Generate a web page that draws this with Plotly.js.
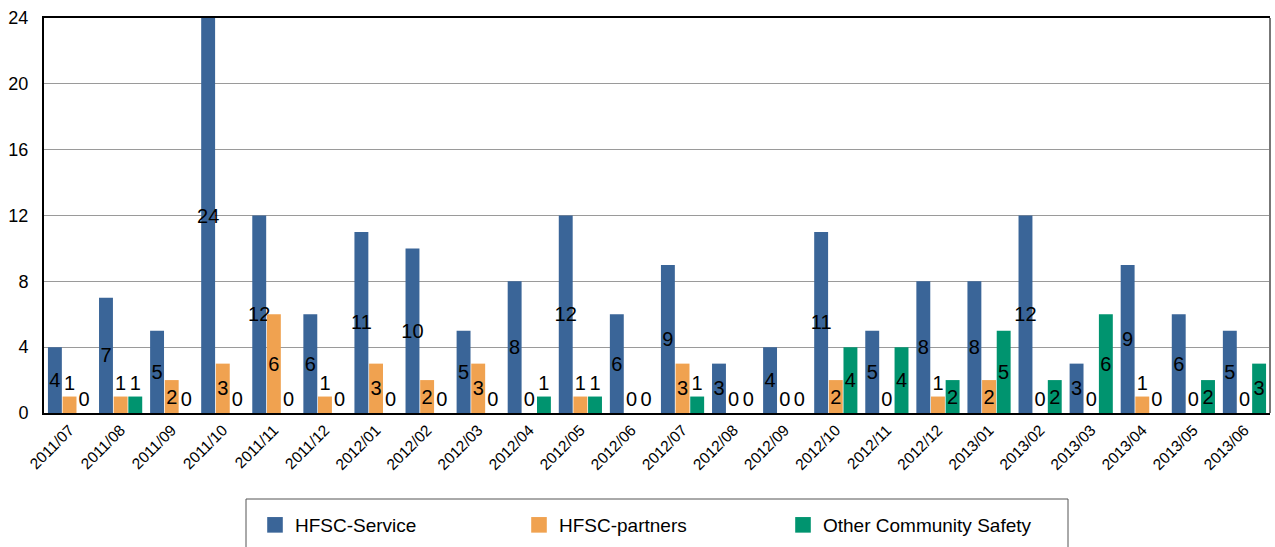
<!DOCTYPE html>
<html>
<head>
<meta charset="utf-8">
<script src="https://cdn.plot.ly/plotly-3.0.1.min.js"></script>
<style>html,body{margin:0;padding:0;background:#fff;}#chart{width:1275px;height:547px;}</style>
</head>
<body>
<div id="chart"></div>
<script>
const months = ["2011/07","2011/08","2011/09","2011/10","2011/11","2011/12","2012/01","2012/02","2012/03","2012/04","2012/05","2012/06","2012/07","2012/08","2012/09","2012/10","2012/11","2012/12","2013/01","2013/02","2013/03","2013/04","2013/05","2013/06"];
const hfscService  = [4,7,5,24,12,6,11,10,5,8,12,6,9,3,4,11,5,8,8,12,3,9,6,5];
const hfscPartners = [1,1,2,3,6,1,3,2,3,0,1,0,3,0,0,2,0,1,2,0,0,1,0,0];
const otherSafety  = [0,1,0,0,0,0,0,0,0,1,1,0,1,0,0,4,4,2,5,2,6,0,2,3];
const seriesNames = ["HFSC-Service","HFSC-partners","Other Community Safety"];
const seriesColors = ["#3a6598","#f0a250","#00946f"];

const FONT = "Liberation Sans, Arial, sans-serif";
function makeTrace(vals, i){
  return {
    type: "bar",
    name: seriesNames[i],
    x: months,
    y: vals,
    marker: {color: seriesColors[i], line: {width: 0}},
    text: vals.map(String),
    textposition: vals.map(v => v >= 2 ? "inside" : "outside"),
    insidetextanchor: "middle",
    textangle: 0,
    constraintext: "none",
    cliponaxis: false,
    textfont: {family: FONT, size: 20, color: "#000"},
    insidetextfont: {family: FONT, size: 20, color: "#000"},
    outsidetextfont: {family: FONT, size: 20, color: "#000"},
    hoverinfo: "x+y+name"
  };
}
const data = [makeTrace(hfscService,0), makeTrace(hfscPartners,1), makeTrace(otherSafety,2)];

const W = 1275, H = 547, L = 44, R = 5, T = 18, B = 134;
const pw = W - L - R, ph = H - T - B;
const px = X => (X - L) / pw;
const py = Y => (H - B - Y) / ph;

const layout = {
  width: W, height: H,
  margin: {l: L, r: R, t: T, b: B, autoexpand: false},
  paper_bgcolor: "#fff", plot_bgcolor: "#fff",
  font: {family: FONT, color: "#000"},
  barmode: "group",
  bargap: 0.14,
  bargroupgap: 0.05,
  showlegend: true,
  legend: {
    orientation: "h",
    x: px(255), xanchor: "left",
    y: py(506), yanchor: "top",
    font: {family: FONT, size: 19, color: "#000"},
    entrywidth: 219,
    entrywidthmode: "pixels",
    bgcolor: "rgba(0,0,0,0)",
    borderwidth: 0,
    traceorder: "normal"
  },
  xaxis: {
    type: "category",
    tickangle: -45,
    tickfont: {family: FONT, size: 15.5, color: "#000"},
    showgrid: false,
    showline: true, linecolor: "#000", linewidth: 2,
    mirror: true,
    ticks: "",
    fixedrange: true
  },
  yaxis: {
    range: [0, 24],
    tickvals: [0,4,8,12,16,20,24],
    ticktext: ["0","4","8","12","16","20","24"],
    tickfont: {family: FONT, size: 18, color: "#000"},
    showgrid: true, gridcolor: "#9a9a9a", gridwidth: 1,
    showline: true, linecolor: "#000", linewidth: 2,
    zeroline: false,
    ticks: "",
    ticklabelstandoff: 10,
    fixedrange: true
  },
  shapes: [
    {type: "line", xref: "paper", yref: "paper", x0: 1, x1: 1, y0: 0, y1: 1,
     line: {color: "#777", width: 2}},
    {type: "rect", xref: "paper", yref: "paper", x0: px(246), x1: px(1068), y0: py(499), y1: py(580),
     line: {color: "#555", width: 1}, fillcolor: "rgba(0,0,0,0)"}
  ]
};

Plotly.newPlot("chart", data, layout, {displayModeBar: false, staticPlot: true}).then(gd => {
  gd.querySelectorAll(".legend .legendpoints path").forEach(p => {
    const t = p.getAttribute("transform") || "";
    p.setAttribute("transform", t + " scale(1.3)");
  });
});
</script>
</body>
</html>
